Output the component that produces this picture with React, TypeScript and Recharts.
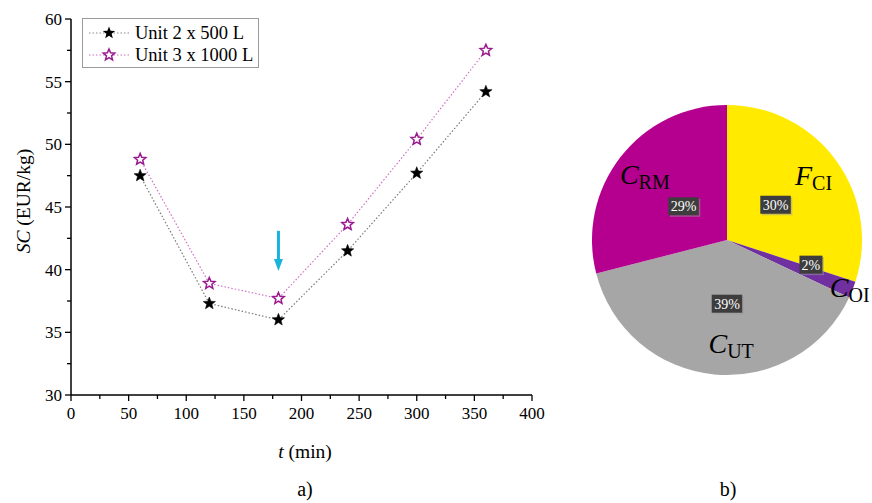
import React from "react";
import {
  LineChart, Line, XAxis, YAxis, ReferenceLine, PieChart, Pie, Cell,
} from "recharts";

// ---------- data ----------
const times = [60, 120, 180, 240, 300, 360];
const unit2 = [47.5, 37.3, 36.0, 41.5, 47.7, 54.2];
const unit3 = [48.8, 38.9, 37.7, 43.6, 50.4, 57.5];
const xTicks = [0, 25, 50, 75, 100, 125, 150, 175, 200, 225, 250, 275, 300, 325, 350, 375, 400];
const yTicks = [30, 32.5, 35, 37.5, 40, 42.5, 45, 47.5, 50, 52.5, 55, 57.5, 60];
const seriesNames = ["Unit 2 x 500 L", "Unit 3 x 1000 L"];
const arrowX = 180;
const arrowFrom = 43.1;
const arrowTo = 39.9;

const pieNames = ["F_CI", "C_OI", "C_UT", "C_RM"];
const pieValues = [30, 2, 39, 29];
const pieMain = ["F", "C", "C", "C"];
const pieSub = ["CI", "OI", "UT", "RM"];

const lineData = times.map((t, i) => ({ t, u2: unit2[i], u3: unit3[i] }));
const pieData = pieNames.map((n, i) => ({ name: n, value: pieValues[i], main: pieMain[i], sub: pieSub[i] }));

// ---------- styles ----------
const FONT = "'Liberation Serif', 'Times New Roman', serif";
const pieColors: Record<string, string> = {
  F_CI: "#FFEA00",
  C_OI: "#7030A0",
  C_UT: "#A6A6A6",
  C_RM: "#B5008F",
};
const pctRadius: Record<string, number> = { F_CI: 60, C_OI: 86, C_UT: 64, C_RM: 55 };
const nameRadius: Record<string, number> = { F_CI: 107, C_OI: 132, C_UT: 105, C_RM: 104 };
const nameDx: Record<string, number> = { F_CI: 0, C_OI: 0, C_UT: 14, C_RM: 0 };
const pctDx: Record<string, number> = { F_CI: 0, C_OI: 4, C_UT: 6, C_RM: 0 };
const pctDy: Record<string, number> = { F_CI: 0, C_OI: -7, C_UT: 0, C_RM: 0 };

function starPath(cx: number, cy: number, R: number, r: number) {
  let d = "";
  for (let i = 0; i < 10; i++) {
    const rad = i % 2 === 0 ? R : r;
    const a = -Math.PI / 2 + (i * Math.PI) / 5;
    d += (i === 0 ? "M" : "L") + (cx + rad * Math.cos(a)).toFixed(2) + "," + (cy + rad * Math.sin(a)).toFixed(2);
  }
  return d + "Z";
}

const BlackStar = (p: any) =>
  p.cx == null ? null : <path key={p.key} d={starPath(p.cx, p.cy, 6.5, 2.8)} fill="#000" stroke="#000" strokeWidth={0.5} />;
const HollowStar = (p: any) =>
  p.cx == null ? null : <path key={p.key} d={starPath(p.cx, p.cy, 6, 2.7)} fill="#fff" stroke="#9A1A8E" strokeWidth={1.5} />;

const XTick = (p: any) => {
  const v = p.payload.value;
  const major = v % 50 === 0;
  return (
    <g>
      <line x1={p.x} x2={p.x} y1={p.y} y2={p.y + (major ? 6 : 4)} stroke="#000" strokeWidth={1.3} />
      {major && (
        <text x={p.x} y={p.y + 24} textAnchor="middle" fontFamily={FONT} fontSize={17} fill="#000">
          {v}
        </text>
      )}
    </g>
  );
};

const YTick = (p: any) => {
  const v = p.payload.value;
  const major = v % 5 === 0;
  return (
    <g>
      <line x1={p.x} x2={p.x - (major ? 6 : 4)} y1={p.y} y2={p.y} stroke="#000" strokeWidth={1.3} />
      {major && (
        <text x={p.x - 9} y={p.y + 6} textAnchor="end" fontFamily={FONT} fontSize={17} fill="#000">
          {v}
        </text>
      )}
    </g>
  );
};

const ArrowShape = (p: any) => {
  const { x1, y1, y2 } = p;
  const x = x1;
  return (
    <g>
      <line x1={x} x2={x} y1={y1} y2={y2 - 9} stroke="#19B3DC" strokeWidth={3} />
      <polygon points={`${x - 4.5},${y2 - 12} ${x + 4.5},${y2 - 12} ${x},${y2}`} fill="#19B3DC" />
    </g>
  );
};

const LegendBox = () => (
  <svg width={177} height={50} style={{ position: "absolute", left: 82, top: 18 }}>
    <rect x={0.5} y={0.5} width={176} height={49} fill="#fff" stroke="#9a9a9a" />
    <line x1={7} x2={47} y1={15} y2={15} stroke="#888" strokeDasharray="1.5 2" />
    <path d={starPath(27, 15, 6.5, 2.8)} fill="#000" />
    <line x1={7} x2={47} y1={37} y2={37} stroke="#D070C4" strokeDasharray="1.5 2" />
    <path d={starPath(27, 37, 6, 2.7)} fill="#fff" stroke="#9A1A8E" strokeWidth={1.5} />
    <text x={53} y={21} fontFamily={FONT} fontSize={18.5} fill="#000">{seriesNames[0]}</text>
    <text x={53} y={43} fontFamily={FONT} fontSize={18.5} fill="#000">{seriesNames[1]}</text>
  </svg>
);

const RAD = Math.PI / 180;
const PieLabel = (p: any) => {
  const { cx, cy, midAngle, percent, payload } = p;
  const name = payload.name;
  const pr = pctRadius[name];
  const px = cx + pr * Math.cos(-midAngle * RAD) + pctDx[name];
  const py = cy + pr * Math.sin(-midAngle * RAD) + pctDy[name];
  const txt = `${Math.round(percent * 100)}%`;
  const w = txt.length * 7.5 + 8;
  const nr = nameRadius[name];
  const nx = cx + nr * Math.cos(-midAngle * RAD) + nameDx[name];
  const ny = cy + nr * Math.sin(-midAngle * RAD);
  return (
    <g>
      <rect x={px - w / 2 + 1.5} y={py - 9 + 1.5} width={w} height={18} fill="#999" opacity={0.5} />
      <rect x={px - w / 2} y={py - 9} width={w} height={18} fill="#3d3d3d" />
      <text x={px} y={py + 5} textAnchor="middle" fontFamily={FONT} fontSize={14} fill="#fff">
        {txt}
      </text>
      <text x={nx} y={ny + 8} textAnchor="middle" fontFamily={FONT} fill="#000">
        <tspan fontStyle="italic" fontSize={28}>{payload.main}</tspan>
        <tspan fontSize={20} dy={5}>{payload.sub}</tspan>
      </text>
    </g>
  );
};

export default function App() {
  return (
    <div style={{ position: "fixed", left: 0, top: 0, width: 872, height: 503, background: "#fff", overflow: "hidden" }}>
      <div style={{ position: "absolute", left: 0, top: 0 }}>
        <LineChart width={560} height={430} data={lineData} margin={{ top: 19, right: 28, left: 21, bottom: 5 }}>
          <XAxis
            dataKey="t"
            type="number"
            domain={[0, 400]}
            ticks={xTicks}
            interval={0}
            tickLine={false}
            tickSize={0}
            tickMargin={0}
            height={30}
            axisLine={{ stroke: "#000", strokeWidth: 1.5 }}
            tick={<XTick />}
          />
          <YAxis
            type="number"
            domain={[30, 60]}
            ticks={yTicks}
            interval={0}
            tickLine={false}
            tickSize={0}
            tickMargin={0}
            width={50}
            axisLine={{ stroke: "#000", strokeWidth: 1.5 }}
            tick={<YTick />}
          />
          <Line
            name={seriesNames[0]}
            dataKey="u2"
            stroke="#7a7a7a"
            strokeWidth={1.2}
            strokeDasharray="1.5 2"
            dot={BlackStar}
            activeDot={false}
            isAnimationActive={false}
          />
          <Line
            name={seriesNames[1]}
            dataKey="u3"
            stroke="#D070C4"
            strokeWidth={1.2}
            strokeDasharray="1.5 2"
            dot={HollowStar}
            activeDot={false}
            isAnimationActive={false}
          />
          <ReferenceLine
            segment={[{ x: arrowX, y: arrowFrom }, { x: arrowX, y: arrowTo }]}
            shape={ArrowShape}
            ifOverflow="visible"
          />
        </LineChart>
      </div>
      <LegendBox />

      {/* axis titles */}
      <div
        style={{
          position: "absolute", left: 24, top: 201, transform: "translate(-50%, -50%) rotate(-90deg)",
          fontFamily: FONT, fontSize: 19.5, whiteSpace: "nowrap", color: "#000",
        }}
      >
        <i>SC</i> (EUR/kg)
      </div>
      <div
        style={{
          position: "absolute", left: 305, top: 452, transform: "translate(-50%, -50%)",
          fontFamily: FONT, fontSize: 19.5, whiteSpace: "nowrap", color: "#000",
        }}
      >
        <i>t</i> (min)
      </div>
      <div
        style={{
          position: "absolute", left: 305, top: 489, transform: "translate(-50%, -50%)",
          fontFamily: FONT, fontSize: 20, color: "#000",
        }}
      >
        a)
      </div>
      <div
        style={{
          position: "absolute", left: 728, top: 489, transform: "translate(-50%, -50%)",
          fontFamily: FONT, fontSize: 20, color: "#000",
        }}
      >
        b)
      </div>

      <div style={{ position: "absolute", left: 580, top: 90 }}>
        <PieChart width={292} height={300} style={{ overflow: "visible" }}>
          <Pie
            data={pieData}
            dataKey="value"
            nameKey="name"
            cx={142}
            cy={145}
            outerRadius={135}
            startAngle={90}
            endAngle={-270}
            stroke="none"
            labelLine={false}
            label={PieLabel}
            isAnimationActive={false}
          >
            {pieData.map((d) => (
              <Cell key={d.name} fill={pieColors[d.name]} />
            ))}
          </Pie>
        </PieChart>
      </div>
    </div>
  );
}
